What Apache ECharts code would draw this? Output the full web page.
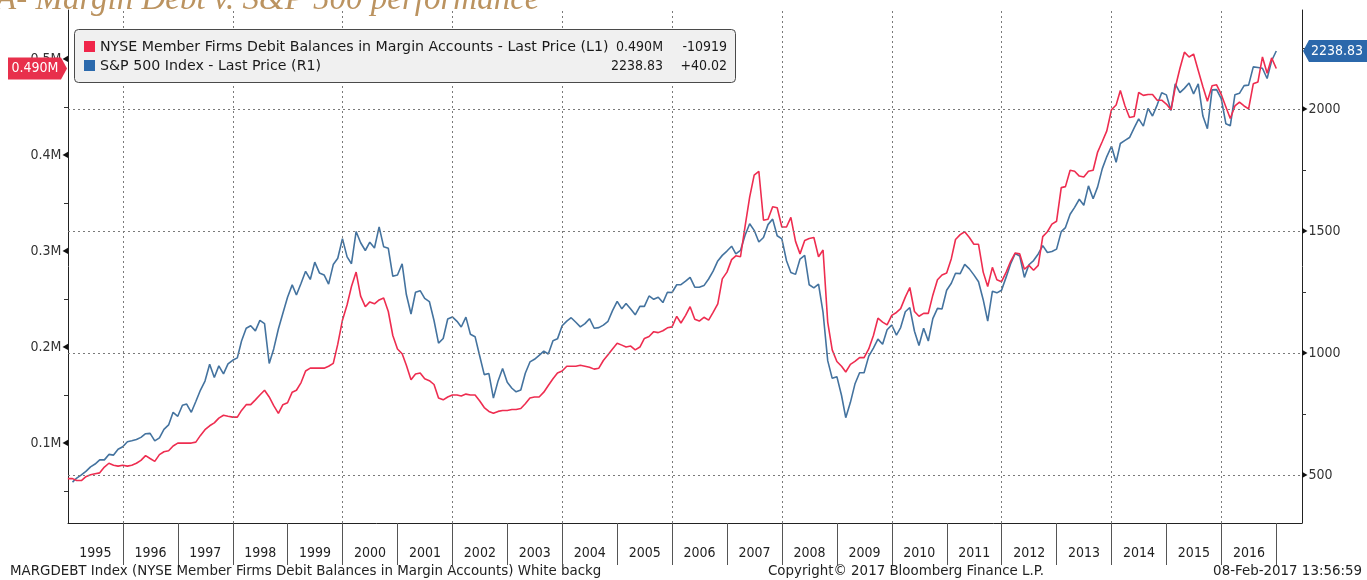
<!DOCTYPE html>
<html>
<head>
<meta charset="utf-8">
<script src="https://cdn.jsdelivr.net/npm/echarts@6/dist/echarts.min.js"></script>
<style>
html, body { margin: 0; padding: 0; background: #fff; }
#chart { width: 1367px; height: 580px; }
</style>
</head>
<body>
<div id="chart"></div>
<script>
// NYSE margin debt ("M" axis), month-end, Dec 1994 .. Dec 2016
const marginStart = [1994, 12]
const marginDebt = [
  0.063,
  0.063, 0.061, 0.061, 0.065, 0.067, 0.068, 0.069, 0.075, 0.079, 0.077, 0.076, 0.077,
  0.076, 0.077, 0.079, 0.082, 0.087, 0.084, 0.081, 0.088, 0.091, 0.092, 0.097, 0.100,
  0.100, 0.100, 0.100, 0.101, 0.108, 0.114, 0.118, 0.121, 0.126, 0.129, 0.128, 0.127,
  0.127, 0.134, 0.140, 0.140, 0.145, 0.150, 0.155, 0.148, 0.139, 0.131, 0.140, 0.142,
  0.153, 0.155, 0.163, 0.175, 0.178, 0.178, 0.178, 0.178, 0.180, 0.183, 0.203, 0.228,
  0.244, 0.263, 0.278, 0.253, 0.242, 0.247, 0.245, 0.249, 0.251, 0.237, 0.212, 0.198,
  0.193, 0.181, 0.166, 0.172, 0.173, 0.167, 0.165, 0.161, 0.147, 0.145, 0.148, 0.150,
  0.150, 0.149, 0.151, 0.150, 0.150, 0.144, 0.137, 0.133, 0.131, 0.133, 0.134, 0.134,
  0.135, 0.135, 0.136, 0.141, 0.147, 0.148, 0.148, 0.153, 0.160, 0.167, 0.173, 0.175,
  0.180, 0.180, 0.180, 0.181, 0.180, 0.179, 0.177, 0.178, 0.186, 0.192, 0.198, 0.204,
  0.202, 0.200, 0.201, 0.197, 0.200, 0.209, 0.211, 0.216, 0.215, 0.217, 0.220, 0.221,
  0.232, 0.225, 0.233, 0.242, 0.229, 0.227, 0.231, 0.228, 0.236, 0.245, 0.271, 0.278,
  0.291, 0.295, 0.294, 0.325, 0.356, 0.379, 0.383, 0.332, 0.333, 0.346, 0.345, 0.325,
  0.325, 0.335, 0.310, 0.297, 0.311, 0.313, 0.314, 0.294, 0.301, 0.226, 0.197, 0.185,
  0.180, 0.174, 0.182, 0.185, 0.189, 0.189, 0.198, 0.212, 0.230, 0.226, 0.223, 0.233,
  0.236, 0.240, 0.252, 0.262, 0.237, 0.232, 0.235, 0.235, 0.254, 0.270, 0.275, 0.277,
  0.292, 0.312, 0.317, 0.320, 0.314, 0.307, 0.307, 0.278, 0.263, 0.283, 0.270, 0.268,
  0.278, 0.289, 0.298, 0.297, 0.281, 0.285, 0.280, 0.285, 0.315, 0.320, 0.328, 0.331,
  0.366, 0.367, 0.384, 0.383, 0.378, 0.377, 0.383, 0.384, 0.403, 0.414, 0.425, 0.447,
  0.452, 0.467, 0.451, 0.439, 0.440, 0.465, 0.462, 0.463, 0.463, 0.457, 0.457, 0.453,
  0.447, 0.470, 0.490, 0.507, 0.502, 0.505, 0.488, 0.471, 0.456, 0.472, 0.473, 0.463,
  0.450, 0.438, 0.451, 0.455, 0.451, 0.448, 0.474, 0.476, 0.502, 0.485, 0.501, 0.490,
]

// S&P 500 month-end close, Jan 1995 .. Dec 2016
const spxStart = [1995, 1]
const spxClose = [
  470.42, 487.39, 500.71, 514.71, 533.40, 544.75, 562.06, 561.88, 584.41, 581.50, 605.37, 615.93,
  636.02, 640.43, 645.50, 654.17, 669.12, 670.63, 639.95, 651.99, 687.33, 705.27, 757.02, 740.74,
  786.16, 790.82, 757.12, 801.34, 848.28, 885.14, 954.31, 899.47, 947.28, 914.62, 955.40, 970.43,
  980.28, 1049.34, 1101.75, 1111.75, 1090.82, 1133.84, 1120.67, 957.28, 1017.01, 1098.67, 1163.63, 1229.23,
  1279.64, 1238.33, 1286.37, 1335.18, 1301.84, 1372.71, 1328.72, 1320.41, 1282.71, 1362.93, 1388.91, 1469.25,
  1394.46, 1366.42, 1498.58, 1452.43, 1420.60, 1454.60, 1430.83, 1517.68, 1436.51, 1429.40, 1314.95, 1320.28,
  1366.01, 1239.94, 1160.33, 1249.46, 1255.82, 1224.42, 1211.23, 1133.58, 1040.94, 1059.78, 1139.45, 1148.08,
  1130.20, 1106.73, 1147.39, 1076.92, 1067.14, 989.82, 911.62, 916.07, 815.28, 885.76, 936.31, 879.82,
  855.70, 841.15, 848.18, 916.92, 963.59, 974.50, 990.31, 1008.01, 995.97, 1050.71, 1058.20, 1111.92,
  1131.13, 1144.94, 1126.21, 1107.30, 1120.68, 1140.84, 1101.72, 1104.24, 1114.58, 1130.20, 1173.82, 1211.92,
  1181.27, 1203.60, 1180.59, 1156.85, 1191.50, 1191.33, 1234.18, 1220.33, 1228.81, 1207.01, 1249.48, 1248.29,
  1280.08, 1280.66, 1294.83, 1310.61, 1270.09, 1270.20, 1276.66, 1303.82, 1335.85, 1377.94, 1400.63, 1418.30,
  1438.24, 1406.82, 1420.86, 1482.37, 1530.62, 1503.35, 1455.27, 1473.99, 1526.75, 1549.38, 1481.14, 1468.36,
  1378.55, 1330.63, 1322.70, 1385.59, 1400.38, 1280.00, 1267.38, 1282.83, 1166.36, 968.75, 896.24, 903.25,
  825.88, 735.09, 797.87, 872.81, 919.14, 919.32, 987.48, 1020.62, 1057.08, 1036.19, 1095.63, 1115.10,
  1073.87, 1104.49, 1169.43, 1186.69, 1089.41, 1030.71, 1101.60, 1049.33, 1141.20, 1183.26, 1180.55, 1257.64,
  1286.12, 1327.22, 1325.83, 1363.61, 1345.20, 1320.64, 1292.28, 1218.89, 1131.42, 1253.30, 1246.96, 1257.60,
  1312.41, 1365.68, 1408.47, 1397.91, 1310.33, 1362.16, 1379.32, 1406.58, 1440.67, 1412.16, 1416.18, 1426.19,
  1498.11, 1514.68, 1569.19, 1597.57, 1630.74, 1606.28, 1685.73, 1632.97, 1681.55, 1756.54, 1805.81, 1848.36,
  1782.59, 1859.45, 1872.34, 1883.95, 1923.57, 1960.23, 1930.67, 2003.37, 1972.29, 2018.05, 2067.56, 2058.90,
  1994.99, 2104.50, 2067.89, 2085.51, 2107.39, 2063.11, 2103.84, 1972.18, 1920.03, 2079.36, 2080.41, 2043.94,
  1940.24, 1932.23, 2059.74, 2065.30, 2096.95, 2098.86, 2173.60, 2170.95, 2168.27, 2126.15, 2198.81, 2238.83,
]

const yearLabels   = Array.from({ length: 22 }, (_, i) => 1995 + i)   // 1995..2016
const yearBounds   = Array.from({ length: 22 }, (_, i) => 1996 + i)   // 1996..2017
const gridYears    = [1996, 1998, 2000, 2002, 2004, 2006, 2008, 2010, 2012, 2014, 2016]
const leftLabels   = [0.1, 0.2, 0.3, 0.4, 0.5]
const leftMinor    = [0.05, 0.15, 0.25, 0.35, 0.45]
const rightLabels  = [500, 1000, 1500, 2000]
const rightMinor   = [750, 1250, 1750, 2250]

const legendRows = [
  { name: 'NYSE Member Firms Debit Balances in Margin Accounts - Last Price (L1)', last: '0.490M', chg: '-10919', color: '#f0264a' },
  { name: 'S&P 500 Index - Last Price (R1)', last: '2238.83', chg: '+40.02', color: '#2c6aad' },
]
const lastMargin = 0.490
const lastSpx    = 2238.83

const FONT  = '"DejaVu Sans Condensed", "DejaVu Sans", sans-serif'
const WIDE  = '"DejaVu Sans", sans-serif'
const RED   = '#ee2d50'
const BLUE  = '#44739f'

// x is a plain value axis holding timestamps
const ts = (y, m, d) => Date.UTC(y, m - 1, d)
const monthEnd = (y, m) => Date.UTC(y, m, 0)   // m is 1-based

function toSeries(start, values) {
  return values.map((v, i) => {
    const k = start[1] - 1 + i
    return [monthEnd(start[0] + Math.floor(k / 12), (k % 12) + 1), v]
  })
}

const chart = echarts.init(document.getElementById('chart'))

const option = {
  animation: false,
  backgroundColor: '#ffffff',
  grid: { left: 68, right: 65, top: 10, bottom: 57, containLabel: false, outerBoundsMode: 'none' },
  xAxis: {
    type: 'value',
    min: ts(1995, 1, 1), max: ts(2017, 6, 20),
    axisLine: { show: true, lineStyle: { color: '#222', width: 1 } },
    axisTick: {
      show: true, inside: false, length: 42,
      customValues: yearBounds.map(y => ts(y, 1, 1)),
      lineStyle: { color: '#555', width: 1 },
    },
    axisLabel: {
      customValues: yearLabels.map(y => ts(y, 7, 2)),
      formatter: v => String(new Date(v).getUTCFullYear()),
      margin: 23, color: '#222', fontSize: 14, fontFamily: FONT,
    },
    splitLine: { show: false },
  },
  yAxis: [
    {
      type: 'value', position: 'left',
      min: 0.0168, max: 0.5509,
      axisLine: { show: true, lineStyle: { color: '#222', width: 1 } },
      axisTick: { show: true, length: 4, customValues: leftMinor, lineStyle: { color: '#333' } },
      axisLabel: {
        customValues: leftLabels, margin: 0,
        formatter: v => `{t|${(Math.round(v * 10) / 10)}M}{a|◀}`,
        rich: {
          t: { fontSize: 14, color: '#333', fontFamily: FONT },
          a: { fontSize: 8, color: '#111', fontFamily: FONT, padding: [0, 0, 0, 1] },
        },
      },
      splitLine: { show: false },
    },
    {
      type: 'value', position: 'right',
      min: 303, max: 2407,
      axisLine: { show: true, lineStyle: { color: '#222', width: 1 } },
      axisTick: { show: true, length: 4, customValues: rightMinor, lineStyle: { color: '#333' } },
      axisLabel: {
        customValues: rightLabels, margin: 0,
        formatter: v => `{a|▶}{t|${v}}`,
        rich: {
          t: { fontSize: 14, color: '#333', fontFamily: FONT },
          a: { fontSize: 8, color: '#111', fontFamily: FONT, padding: [0, 1, 0, 0] },
        },
      },
      splitLine: { show: false },
    },
  ],
  series: [
    {
      // dotted grid
      type: 'line', yAxisIndex: 1, data: [], silent: true, z: 1,
      markLine: {
        silent: true, symbol: 'none', animation: false,
        label: { show: false },
        lineStyle: { color: '#7a7a7a', type: [2, 3], width: 1 },
        data: [
          ...gridYears.map(y => ({ xAxis: ts(y, 1, 1) })),
          ...rightLabels.map(v => ({ yAxis: v })),
        ],
      },
    },
    {
      type: 'line', name: 'S&P 500 Index', yAxisIndex: 1,
      data: toSeries(spxStart, spxClose),
      symbol: 'none', lineStyle: { color: BLUE, width: 1.6 }, z: 3,
    },
    {
      type: 'line', name: 'NYSE Margin Debt', yAxisIndex: 0,
      data: toSeries(marginStart, marginDebt),
      symbol: 'none', lineStyle: { color: RED, width: 1.6 }, z: 4,
    },
  ],
}

chart.setOption(option)

// overlays: title, legend box, last-value tags, footer
const yL = chart.convertToPixel({ yAxisIndex: 0 }, lastMargin)
const yR = chart.convertToPixel({ yAxisIndex: 1 }, lastSpx)

const legendFont = `14.2px ${WIDE}`
const valueFont  = `14px ${FONT}`
const graphic = [
  {
    type: 'text', x: -4, y: 17, z: 10,
    style: { text: 'A- Margin Debt v. S&P 500 performance', font: 'italic 33px "Liberation Serif", serif', fill: '#bb9360', verticalAlign: 'bottom' },
  },
  {
    type: 'rect', z: 20,
    shape: { x: 74.5, y: 29.5, width: 661, height: 53, r: 4 },
    style: { fill: '#f0f0f0', stroke: '#4a4a4a', lineWidth: 1 },
  },
]
legendRows.forEach((r, i) => {
  const cy = 47 + i * 19
  graphic.push(
    { type: 'rect', z: 21, shape: { x: 84, y: cy - 6, width: 11, height: 11 }, style: { fill: r.color } },
    { type: 'text', z: 21, x: 100, y: cy, style: { text: r.name, font: legendFont, fill: '#1a1a1a', verticalAlign: 'middle' } },
    { type: 'text', z: 21, x: 663, y: cy, style: { text: r.last, font: valueFont, fill: '#1a1a1a', align: 'right', verticalAlign: 'middle' } },
    { type: 'text', z: 21, x: 727, y: cy, style: { text: r.chg, font: valueFont, fill: '#1a1a1a', align: 'right', verticalAlign: 'middle' } },
  )
})

// left tag (margin debt)
graphic.push(
  {
    type: 'polygon', z: 30,
    shape: { points: [[8, yL - 11], [61, yL - 11], [67, yL], [61, yL + 11], [8, yL + 11]] },
    style: { fill: '#e8304c' },
  },
  { type: 'text', z: 31, x: 35, y: yL, style: { text: '0.490M', font: `14px ${FONT}`, fill: '#fff', align: 'center', verticalAlign: 'middle' } },
)
// right tag (S&P)
graphic.push(
  {
    type: 'polygon', z: 30,
    shape: { points: [[1303, yR], [1309, yR - 11], [1367, yR - 11], [1367, yR + 11], [1309, yR + 11]] },
    style: { fill: '#2b68ab' },
  },
  { type: 'text', z: 31, x: 1337, y: yR, style: { text: '2238.83', font: `14px ${FONT}`, fill: '#fff', align: 'center', verticalAlign: 'middle' } },
)

// footer
const footFont = `13.4px ${WIDE}`
graphic.push(
  { type: 'text', x: 10, y: 572, style: { text: 'MARGDEBT Index (NYSE Member Firms Debit Balances in Margin Accounts) White backg', font: footFont, fill: '#222', verticalAlign: 'middle' } },
  { type: 'text', x: 906, y: 572, style: { text: 'Copyright\u00a9 2017 Bloomberg Finance L.P.', font: footFont, fill: '#222', align: 'center', verticalAlign: 'middle' } },
  { type: 'text', x: 1362, y: 572, style: { text: '08-Feb-2017 13:56:59', font: footFont, fill: '#222', align: 'right', verticalAlign: 'middle' } },
)

chart.setOption({ graphic })
</script>
</body>
</html>
